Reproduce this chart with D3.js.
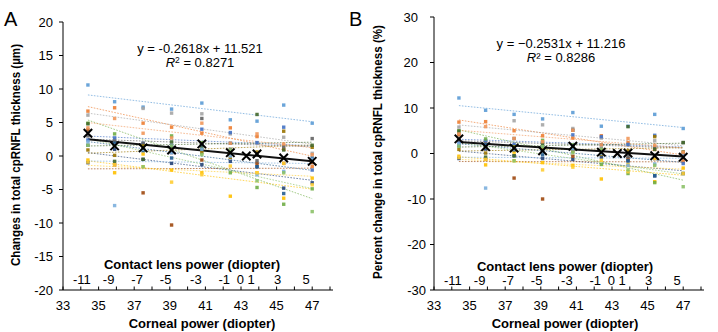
<!DOCTYPE html>
<html>
<head>
<meta charset="utf-8">
<script src="https://cdn.jsdelivr.net/npm/d3@7"></script>
<style>
  body { margin: 0; background: #fff; }
  svg { display: block; }
  text { font-family: "Liberation Sans", Arial, sans-serif; fill: #000; }
</style>
</head>
<body>
<svg id="chart" width="718" height="332"></svg>
<script>
// Contact lens power and the corneal power it corresponds to
const lensPowers    = [-11, -9, -7, -5, -3, -1, 0, 1, 3, 5];
const cornealPowers = [34.4, 35.9, 37.5, 39.1, 40.8, 42.4, 43.3, 43.9, 45.4, 47.0];
// lens 0 is the baseline, so subjects are plotted at the other nine lenses
const measuredLens  = [-11, -9, -7, -5, -3, -1, 1, 3, 5];

const seriesColors = ["#5B9BD5", "#ED7D31", "#A5A5A5", "#FFC000", "#4472C4", "#70AD47",
                      "#264478", "#9E480E", "#636363", "#997300", "#255E91", "#43682B",
                      "#7CAFDD", "#F1975A", "#FFCD33", "#8CC168"];

// Change in total cpRNFL thickness (µm), one row per eye
const thicknessChange = [
  [10.6, 8.1, 7.3, 7.0, 7.9, 5.4, 5.2, 7.6, 4.9],
  [6.7, 7.2, 4.9, 4.3, 3.4, 4.2, 2.9, 1.0, -1.6],
  [6.1, 2.4, 7.1, 6.4, 6.3, 3.3, 1.9, 2.8, 0.4],
  [-0.6, -2.5, 0.3, -2.1, -2.5, -6.0, -2.5, -6.3, -3.3],
  [2.4, 2.7, 1.9, 1.6, 4.0, 3.5, 2.0, 4.3, -2.1],
  [4.9, 3.3, 1.5, 3.0, 2.0, -2.5, -4.7, -7.2, -4.9],
  [-1.0, 1.0, -0.5, -1.1, -1.3, -0.8, -1.6, -4.8, -4.0],
  [3.9, -1.3, -5.5, -10.3, -0.6, 0.2, -1.1, -1.1, -1.0],
  [3.0, 2.2, 1.9, 0.5, 5.6, 1.0, -0.7, 1.4, 2.6],
  [0.9, 0.1, 1.5, 0.9, 0.5, -0.2, 0.6, 3.7, 1.3],
  [1.6, 1.9, 0.8, -0.3, 1.6, 1.9, -1.6, -5.6, -0.3],
  [4.8, -0.8, -0.5, 2.1, 1.2, 0.5, 6.2, 0.9, 1.6],
  [2.1, -7.4, 1.0, 0.5, 1.0, 0.0, -2.8, -2.3, -0.5],
  [4.2, 5.6, 3.4, 2.7, 4.9, 1.9, 3.3, 1.8, 0.2],
  [-0.9, -1.3, -1.6, -3.9, -2.8, -1.5, -2.5, -1.1, -4.3],
  [1.6, 1.5, -1.6, 1.5, 0.2, 0.9, -3.7, -2.5, -8.3]
];

// Percent change in total cpRNFL thickness (%), same eyes
const percentChange = [
  [12.2, 9.5, 8.6, 7.6, 9.0, 6.0, 6.0, 8.6, 5.5],
  [6.9, 7.0, 5.0, 3.9, 3.4, 3.9, 2.4, 0.9, -1.8],
  [5.8, 2.6, 7.2, 6.3, 5.5, 3.4, 1.9, 2.8, 0.4],
  [-0.6, -2.5, 0.3, -2.0, -2.6, -5.6, -2.4, -6.2, -3.2],
  [2.5, 2.8, 2.0, 1.6, 4.1, 3.7, 2.0, 4.0, -2.2],
  [5.0, 3.2, 1.5, 2.9, 1.9, -2.4, -4.4, -6.4, -4.4],
  [-1.1, 1.0, -0.5, -1.1, -1.3, -0.8, -1.6, -4.9, -4.4],
  [4.1, -1.3, -5.4, -10.0, -0.6, 0.2, -1.1, -1.1, -1.0],
  [3.0, 2.1, 3.3, 0.5, 5.1, 1.0, -0.7, 1.4, 2.4],
  [0.9, 0.1, 1.4, 0.9, 0.5, -0.2, 0.6, 3.7, 0.3],
  [1.7, 1.9, 0.8, -0.3, 1.6, 1.9, -1.6, -4.9, -0.3],
  [4.9, -0.8, -0.5, 2.1, 1.2, 0.5, 5.9, 0.9, 2.4],
  [2.1, -7.6, 1.0, 0.5, 1.0, 0.0, -2.6, -2.3, -0.5],
  [4.3, 5.9, 3.3, 2.6, 5.1, 1.9, 3.3, 1.8, 0.2],
  [-0.9, -1.3, -1.6, -3.6, -3.0, -1.5, -4.0, -1.1, -4.4],
  [1.6, 1.5, -1.6, 1.5, 0.2, 0.9, -3.6, -2.6, -7.3]
];

// Mean change at every lens (including the baseline lens)
const meanThicknessChange = [3.4, 1.5, 1.2, 0.9, 1.8, 0.5, 0, 0.3, -0.3, -0.8];
const meanPercentChange   = [3.2, 1.5, 1.2, 0.6, 1.6, 0.3, 0, 0.1, -0.5, -0.8];

// Linear regression of the means against corneal power
const fitThickness = { slope: -0.2618, intercept: 11.521, r2: "0.8271" };
const fitPercent   = { slope: -0.2531, intercept: 11.216, r2: "0.8286" };

const cornealTicks = d3.range(33, 49, 1);
const cornealLabels = d3.range(33, 48, 2);

const svg = d3.select("#chart");

function cornealFor(lens) { return cornealPowers[lensPowers.indexOf(lens)]; }

// least-squares straight line through one eye's points
function linFit(xs, ys) {
  const mx = d3.mean(xs), my = d3.mean(ys);
  let sxy = 0, sxx = 0;
  xs.forEach((x, i) => { sxy += (x - mx) * (ys[i] - my); sxx += (x - mx) * (x - mx); });
  const b = sxy / sxx;
  return x => my + b * (x - mx);
}

function drawPanel(cfg) {
  const g = svg.append("g");
  const x = d3.scaleLinear().domain([33, 48]).range([cfg.left, cfg.right]);
  const y = d3.scaleLinear().domain(cfg.yDomain).range([cfg.bottom, cfg.top]);
  const xs = measuredLens.map(cornealFor);

  // per-eye trend lines
  const line = d3.line().x(d => x(d[0])).y(d => y(d[1]));
  const x0 = d3.min(xs), x1 = d3.max(xs);
  cfg.series.forEach((vals, i) => {
    const f = linFit(xs, vals);
    g.append("path").attr("d", line([[x0, f(x0)], [x1, f(x1)]]))
      .attr("fill", "none").attr("stroke", seriesColors[i])
      .attr("stroke-width", 1).attr("stroke-dasharray", "1.6,1.4").attr("opacity", 0.65);
  });

  // regression of the means
  const fx = v => cfg.fit.slope * v + cfg.fit.intercept;
  g.append("path").attr("d", line([[x0, fx(x0)], [x1, fx(x1)]]))
    .attr("fill", "none").attr("stroke", "#111").attr("stroke-width", 2);

  // individual points
  cfg.series.forEach((vals, i) => {
    g.selectAll(null).data(vals).enter().append("rect")
      .attr("x", (d, k) => x(xs[k]) - 1.7).attr("y", d => y(d) - 1.7)
      .attr("width", 3.4).attr("height", 3.4)
      .attr("fill", seriesColors[i]).attr("opacity", 0.9);
  });

  // mean markers
  const s = 4.2;
  cfg.means.forEach((m, k) => {
    const cx = x(cornealPowers[k]), cy = y(m);
    g.append("path")
      .attr("d", `M${cx - s},${cy - s}L${cx + s},${cy + s}M${cx - s},${cy + s}L${cx + s},${cy - s}`)
      .attr("stroke", "#000").attr("stroke-width", 2);
  });

  // y axis
  g.append("line").attr("x1", cfg.left).attr("x2", cfg.left)
    .attr("y1", cfg.top).attr("y2", cfg.bottom).attr("stroke", "#000").attr("stroke-width", 1);
  cfg.yTicks.forEach(t => {
    g.append("line").attr("x1", cfg.left - 4).attr("x2", cfg.left)
      .attr("y1", y(t)).attr("y2", y(t)).attr("stroke", "#000");
    g.append("text").attr("x", cfg.left - (t < 0 ? cfg.negPad : cfg.posPad)).attr("y", y(t) + 4.5)
      .attr("text-anchor", "end").attr("font-size", 13).text(t < 0 ? "-" + Math.abs(t) : t);
  });

  // x axis
  g.append("line").attr("x1", cfg.left).attr("x2", cfg.right + 3)
    .attr("y1", cfg.bottom).attr("y2", cfg.bottom).attr("stroke", "#000");
  cornealTicks.forEach(t => {
    g.append("line").attr("x1", x(t)).attr("x2", x(t))
      .attr("y1", cfg.bottom - 3.5).attr("y2", cfg.bottom).attr("stroke", "#000");
  });
  cornealLabels.forEach(t => {
    g.append("text").attr("x", x(t)).attr("y", 310).attr("text-anchor", "middle")
      .attr("font-size", 13).text(t);
  });
  lensPowers.forEach((lp, k) => {
    g.append("text").attr("x", x(cornealPowers[k]) - 6).attr("y", cfg.lensBaseline)
      .attr("text-anchor", "middle").attr("font-size", 13)
      .text(lp < 0 ? "-" + Math.abs(lp) : lp);
  });

  g.append("text").attr("x", cfg.lensTitleX).attr("y", cfg.lensTitleY).attr("text-anchor", "middle")
    .attr("font-size", 13).attr("font-weight", "bold").text("Contact lens power (diopter)");
  g.append("text").attr("x", cfg.cornealTitleX).attr("y", 327.5).attr("text-anchor", "middle")
    .attr("font-size", 13).attr("font-weight", "bold").text("Corneal power (diopter)");

  g.append("text")
    .attr("transform", `translate(${cfg.yTitleX},${cfg.yTitleY}) rotate(-90)`)
    .attr("text-anchor", "middle").attr("font-size", 12.5).attr("font-weight", "bold")
    .attr("textLength", cfg.yTitleLen).attr("lengthAdjust", "spacingAndGlyphs")
    .text(cfg.yTitle);

  // equation
  g.append("text").attr("x", cfg.eqX).attr("y", cfg.eqY).attr("text-anchor", "middle")
    .attr("font-size", 13).text(cfg.eqText);
  const r = g.append("text").attr("x", cfg.eqX).attr("y", cfg.eqY + 14.5)
    .attr("text-anchor", "middle").attr("font-size", 13);
  r.append("tspan").attr("font-style", "italic").text("R");
  if (cfg.superscriptTspan) {
    r.append("tspan").attr("dy", -4).attr("font-size", 8.5).text("2");
    r.append("tspan").attr("dy", 4).text(" = " + cfg.fit.r2);
  } else {
    r.append("tspan").text("\u00B2 = " + cfg.fit.r2);
  }

  svg.append("text").attr("x", cfg.letterX).attr("y", 26).attr("font-size", 20).text(cfg.letter);
}

drawPanel({
  letter: "A", letterX: 4,
  left: 63, right: 330, top: 22, bottom: 290,
  yDomain: [-20, 20], yTicks: d3.range(-20, 21, 5), posPad: 10, negPad: 10,
  series: thicknessChange, means: meanThicknessChange, fit: fitThickness,
  lensBaseline: 283.5, lensTitleX: 192, lensTitleY: 268.5, cornealTitleX: 202,
  yTitle: "Changes in total cpRNFL thickness (\u00B5m)", yTitleX: 19.5, yTitleY: 155, yTitleLen: 222,
  eqText: "y = -0.2618x + 11.521", eqX: 200, eqY: 52.5, superscriptTspan: true
});

drawPanel({
  letter: "B", letterX: 349,
  left: 434, right: 701, top: 17, bottom: 290,
  yDomain: [-30, 30], yTicks: d3.range(-30, 31, 10), posPad: 16, negPad: 8,
  series: percentChange, means: meanPercentChange, fit: fitPercent,
  lensBaseline: 285, lensTitleX: 565, lensTitleY: 270.5, cornealTitleX: 565,
  yTitle: "Percent change in total cpRNFL thickness (%)", yTitleX: 382, yTitleY: 152, yTitleLen: 254,
  eqText: "y = \u22120.2531x + 11.216", eqX: 561, eqY: 47.5, superscriptTspan: false
});
</script>
</body>
</html>
